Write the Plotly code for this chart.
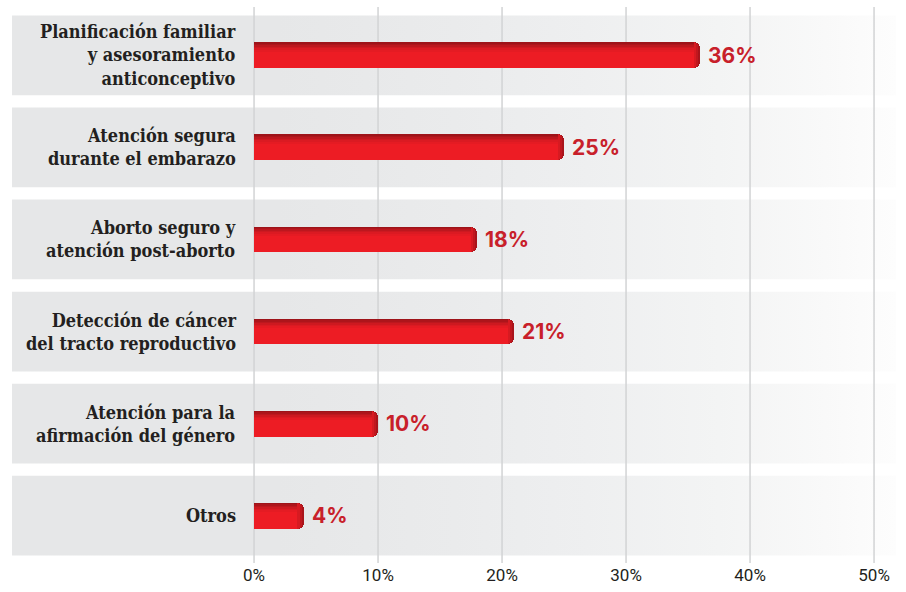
import plotly.graph_objects as go

# Services and share of respondents (%)
categories = [
    "Planificación familiar<br>y asesoramiento<br>anticonceptivo",
    "Atención segura<br>durante el embarazo",
    "Aborto seguro y<br>atención post-aborto",
    "Detección de cáncer<br>del tracto reproductivo",
    "Atención para la<br>afirmación del género",
    "Otros",
]
values = [36, 25, 18, 21, 10, 4]
tick_values = [0, 10, 20, 30, 40, 50]
tick_labels = ["0%", "10%", "20%", "30%", "40%", "50%"]

# Row positions, top row highest
positions = list(range(len(categories) - 1, -1, -1))

X_RANGE = [-19.52, 51.77]
Y_RANGE = [-0.514, 5.525]
PX_PER_ROW = 92.4
BAND_HALF = 40 / PX_PER_ROW
BAR_W = 26 / PX_PER_ROW

RED = "#ed1c24"
LABEL_RED = "#c8202a"
TEXT = "#231f20"

fig = go.Figure()

# Background band behind each row, fading to white on the right
band_scale = [
    [0.0, "#e6e7e8"], [0.30, "#e6e7e8"], [0.50, "#eaebec"],
    [0.65, "#eeeff0"], [0.80, "#f3f4f4"], [0.92, "#f9f9f9"], [1.0, "#fdfdfd"],
]
for p in positions:
    fig.add_trace(go.Scatter(
        x=[X_RANGE[0], X_RANGE[1], X_RANGE[1], X_RANGE[0], X_RANGE[0]],
        y=[p - BAND_HALF, p - BAND_HALF, p + BAND_HALF, p + BAND_HALF, p - BAND_HALF],
        mode="lines", line=dict(width=0), fill="toself",
        fillgradient=dict(type="horizontal", colorscale=band_scale),
        hoverinfo="skip", showlegend=False,
    ))

# Vertical gridlines drawn over the bands
gx, gy = [], []
for t in tick_values:
    gx += [t, t, None]
    gy += [Y_RANGE[0], Y_RANGE[1], None]
fig.add_trace(go.Scatter(
    x=gx, y=gy, mode="lines", line=dict(color="#d2d3d5", width=1.5),
    hoverinfo="skip", showlegend=False,
))

# Bars live on an overlaying pair of axes so they sit above the bands.
# Rounded layers, darkest first, give the shaded right end.
end_layers = [(0.0, "#a9141b"), (0.16, "#c1171e"), (0.32, "#d71a21")]
for i, (trim, c) in enumerate(end_layers):
    fig.add_trace(go.Bar(
        x=[v - trim for v in values], y=positions, orientation="h", width=BAR_W,
        xaxis="x2", yaxis="y2",
        marker=dict(color=c, cornerradius=6, line=dict(width=0)),
        hovertemplate="%{y}<extra></extra>" if i else "%{x}%<extra></extra>",
        hoverinfo="skip" if i else None, showlegend=False,
    ))
# Bright face with a square left end
face = [v - 0.5 for v in values]
fig.add_trace(go.Bar(
    x=face, y=positions, orientation="h", width=BAR_W,
    xaxis="x2", yaxis="y2",
    marker=dict(color=RED, line=dict(width=0)),
    hoverinfo="skip", showlegend=False,
))
# Darker shading along the top edge
strip_colors = ["#9e1319", "#ad151b", "#bd171e", "#cd1920", "#db1a22", "#e51b23"]
s = 1.5 / PX_PER_ROW
for k, c in enumerate(strip_colors):
    fig.add_trace(go.Bar(
        x=face, y=positions, orientation="h", width=s,
        offset=BAR_W / 2 - (k + 1) * s,
        xaxis="x2", yaxis="y2",
        marker=dict(color=c, line=dict(width=0)),
        hoverinfo="skip", showlegend=False,
    ))

annotations = []
for cat, v, p in zip(categories, values, positions):
    annotations.append(dict(
        x=0, y=p, xref="x", yref="y", xanchor="right", yanchor="middle",
        xshift=-16, align="right", showarrow=False, text=cat,
        font=dict(family="DejaVu Serif Condensed, DejaVu Serif", size=18,
                  color=TEXT, weight="bold"),
    ))
    annotations.append(dict(
        x=v, y=p, xref="x", yref="y", xanchor="left", yanchor="middle",
        xshift=6, showarrow=False, text=f"{v}%",
        font=dict(family="Inter, Open Sans, sans-serif", size=21,
                  color=LABEL_RED, weight="bold"),
    ))

fig.update_layout(
    width=906, height=592,
    margin=dict(l=12, r=10, t=7, b=27),
    paper_bgcolor="white", plot_bgcolor="white",
    barmode="overlay", bargap=0,
    annotations=annotations,
    xaxis=dict(
        range=X_RANGE, tickvals=tick_values, ticktext=tick_labels,
        showgrid=False, zeroline=False, showline=False, ticks="",
        tickfont=dict(family="Roboto, sans-serif", size=17, color=TEXT),
        fixedrange=True,
    ),
    yaxis=dict(
        range=Y_RANGE, showticklabels=False, showgrid=False,
        zeroline=False, showline=False, fixedrange=True,
    ),
    xaxis2=dict(
        range=X_RANGE, overlaying="x", visible=False, fixedrange=True,
    ),
    yaxis2=dict(
        range=Y_RANGE, overlaying="y", visible=False, fixedrange=True,
    ),
)

fig.write_html("out.html")
